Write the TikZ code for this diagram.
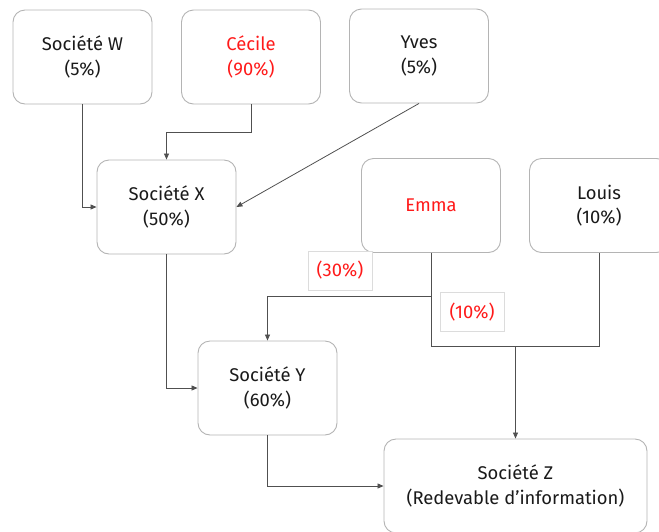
\documentclass[tikz,border=0pt]{standalone}
\usepackage{fontspec}
\setmainfont{Fira Sans}
\usetikzlibrary{arrows.meta}
\definecolor{boxline}{HTML}{B4B4B4}
\definecolor{lblline}{HTML}{DCDCDC}
\definecolor{conncol}{HTML}{505050}
\definecolor{txt}{HTML}{1A1A1A}
\definecolor{redtxt}{HTML}{FF1A1A}
\tikzset{
  entity/.style={draw=boxline, line width=0.9pt, rounded corners=12pt, fill=white,
    minimum width=139pt, minimum height=94pt, align=center, text=txt,
    font=\fontsize{18.4}{24.5}\selectfont},
  pct/.style={draw=lblline, line width=0.8pt, fill=white, minimum width=64pt,
    minimum height=39pt, text=redtxt, font=\fontsize{18.4}{24}\selectfont},
  plain/.style={draw=conncol, line width=0.8pt},
  conn/.style={plain, -{Triangle[length=6pt,width=5pt]}},
}
\begin{document}
\begin{tikzpicture}[x=1pt,y=-1pt]
\useasboundingbox (0,0) rectangle (659,531);
\clip (0,0) rectangle (659,531);
\node[entity] (W) at (82.5,57) {Société W\\(5\%)};
\node[entity, text=redtxt] (C) at (251,57) {Cécile\\(90\%)};
\node[entity] (V) at (419,56) {Yves\\(5\%)};
\node[entity] (X) at (166.5,207) {Société X\\(50\%)};
\node[entity, text=redtxt] (E) at (431,205.5) {Emma};
\node[entity] (L) at (599,205.5) {Louis\\(10\%)};
\node[entity] (Y) at (267.5,388) {Société Y\\(60\%)};
\node[entity, minimum width=263pt] (Z) at (515.5,486) {Société Z\\(Redevable d’information)};
\draw[conn] (W.south) |- (X.west);
\draw[conn] (C.south) -- ++(0,28) -| (X.north);
\draw[conn] (V.south) -- (X.east);
\draw[conn] (X.south) |- (Y.west);
\draw[conn] (E.south) -- ++(0,43) -| (Y.north);
\coordinate (jl) at (E.south |- 0,346);
\coordinate (jr) at (L.south |- 0,346);
\coordinate (jm) at (Z.north |- 0,346);
\draw[plain] (E.south) -- (jl) -- (jr) -- (L.south);
\draw[conn] (jm) -- (Z.north);
\draw[conn] (Y.south) |- (Z.west);
\node[pct] (p30) at (340,270.5) {(30\%)};
\node[pct] (p10) at (472,312) {(10\%)};
\end{tikzpicture}
\end{document}
